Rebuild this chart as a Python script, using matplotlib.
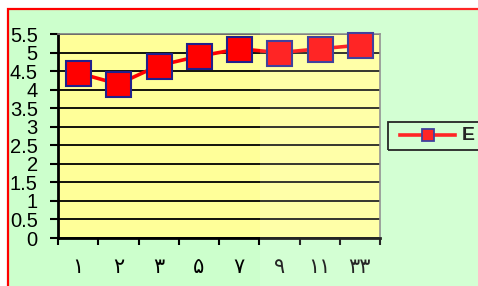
import matplotlib.pyplot as plt
from matplotlib.patches import Rectangle
from matplotlib.lines import Line2D

# data
categories = ['۱', '۲', '۳', '۵', '۷', '۹', '۱۱', '۳۳']
values = [4.45, 4.15, 4.65, 4.9, 5.1, 5.0, 5.1, 5.2]
series_name = 'E'
y_ticks = [0, 0.5, 1, 1.5, 2, 2.5, 3, 3.5, 4, 4.5, 5, 5.5]

W, H = 478, 286
plt.rcParams['font.family'] = ['Liberation Sans', 'DejaVu Sans']

fig = plt.figure(figsize=(W / 100, H / 100), dpi=100)
fig.patch.set_facecolor('white')

# red bordered green chart area (runs off the right/bottom edge)
fig.add_artist(Rectangle((8 / W, -0.1), 1.2, 1 - 9 / H + 0.1, transform=fig.transFigure,
                         facecolor='#CCFFCC', edgecolor='#FF0000', linewidth=1.6, zorder=-5))

ax = fig.add_axes([58 / W, 48 / H, 322 / W, 204 / H])
ax.set_facecolor('#FFFF99')
x = list(range(len(categories)))
ax.plot(x, values, color='#FF0000', linewidth=2.6, marker='s', markersize=18,
        markerfacecolor='#FF0000', markeredgecolor='#20208C', markeredgewidth=1.5,
        clip_on=False, zorder=5)

ax.set_xlim(-0.5, len(categories) - 0.5)
ax.set_ylim(0, 5.5)
ax.set_yticks(y_ticks)
ax.set_yticklabels(['%g' % v for v in y_ticks], fontsize=14.5)
ax.yaxis.grid(True, color='black', linewidth=1.3)
ax.set_axisbelow(True)

ax.set_xticks([i - 0.5 for i in range(len(categories) + 1)])
ax.set_xticklabels([])
ax.set_xticks(x, minor=True)
ax.set_xticklabels(categories, minor=True, fontsize=15, family=['DejaVu Sans'])
ax.tick_params(axis='x', which='major', length=5, width=1.5, direction='out')
ax.tick_params(axis='x', which='minor', length=0, pad=14)
ax.tick_params(axis='y', length=6, width=1.5, pad=8.5)

for s in ['left', 'bottom']:
    ax.spines[s].set_linewidth(2)
    ax.spines[s].set_color('black')
for s in ['top', 'right']:
    ax.spines[s].set_linewidth(1.2)
    ax.spines[s].set_color('#808080')

# legend, partly cut off at the right edge
fig.add_artist(Rectangle((388 / W, 1 - 150 / H), 0.3, 28 / H, transform=fig.transFigure,
                         facecolor='none', edgecolor='black', linewidth=1.3, zorder=6))
ly = 1 - 135 / H
fig.add_artist(Line2D([400 / W, 455 / W], [ly, ly], transform=fig.transFigure,
                      color='#FF0000', linewidth=2.6, zorder=7))
fig.add_artist(Line2D([428 / W], [ly], transform=fig.transFigure, marker='s',
                      markersize=8, markerfacecolor='#FF0000', markeredgecolor='#20208C',
                      markeredgewidth=1.3, zorder=8))
fig.text(462 / W, ly, series_name, fontsize=14, fontweight='bold', va='center', ha='left')

# faint light overlay on the right part
fig.add_artist(Rectangle((260 / W, 0), 1, 1, transform=fig.transFigure,
                         facecolor='white', edgecolor='none', alpha=0.15, zorder=20))

fig.savefig('out.png', dpi=100)
